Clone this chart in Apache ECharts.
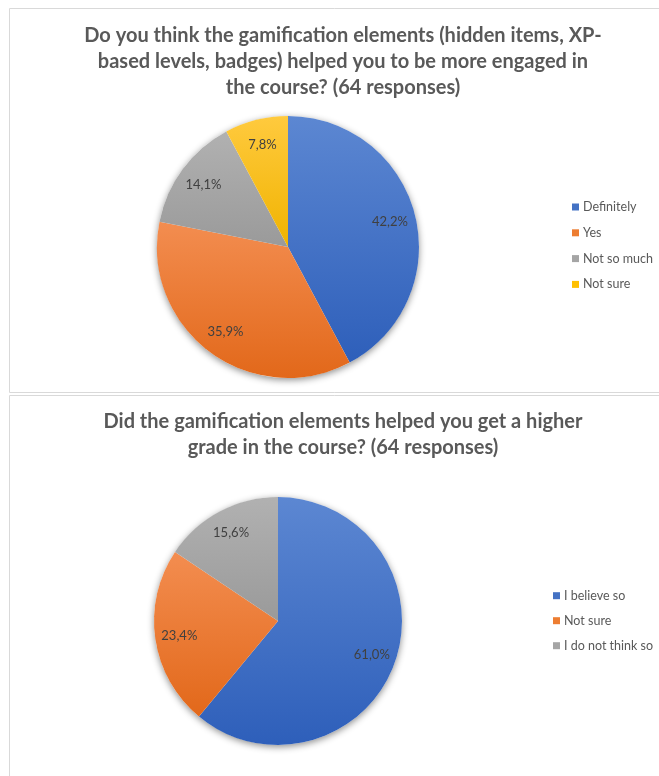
<!DOCTYPE html>
<html>
<head>
<meta charset="utf-8">
<script src="https://cdn.jsdelivr.net/npm/echarts@6/dist/echarts.min.js"></script>
<style>
  html, body { margin: 0; padding: 0; background: #ffffff; }
  #c1 { position: absolute; left: 0; top: 0; width: 659px; height: 393px; }
  #c2 { position: absolute; left: 0; top: 393px; width: 659px; height: 383px; }
</style>
</head>
<body>
<div id="c1"></div>
<div id="c2"></div>
<script>
// ---- data ----
const q1Title = 'Do you think the gamification elements (hidden items, XP-\nbased levels, badges) helped you to be more engaged in\nthe course? (64 responses)';
const q1Categories = ['Definitely', 'Yes', 'Not so much', 'Not sure'];
const q1Values = [42.2, 35.9, 14.1, 7.8];

const q2Title = 'Did the gamification elements helped you get a higher\ngrade in the course? (64 responses)';
const q2Categories = ['I believe so', 'Not sure', 'I do not think so'];
const q2Values = [61.0, 23.4, 15.6];

// ---- styles ----
const FONT = 'Lato, "Open Sans", sans-serif';
const flat = {
  blue: '#4472C4', orange: '#ED7D31', gray: '#A5A5A5', yellow: '#FFC000'
};
const grad = {
  blue: ['#5C87D2', '#2E5FBA'],
  orange: ['#F38D50', '#E2681A'],
  gray: ['#B1B1B1', '#9A9A9A'],
  yellow: ['#FFCA3E', '#F0B300']
};
function lg(c) {
  return new echarts.graphic.LinearGradient(0, 0, 0, 1, [
    { offset: 0, color: c[0] }, { offset: 1, color: c[1] }
  ]);
}
function fmt(v) { return v.toFixed(1).replace('.', ',') + '%'; }

function build(el, cfg) {
  const chart = echarts.init(el, null, { renderer: 'canvas' });
  const r = cfg.radius;
  const pieData = cfg.categories.map((n, i) => ({
    name: n, value: cfg.values[i],
    itemStyle: { color: lg(grad[cfg.colors[i]]) }
  }));
  const labelData = cfg.categories.map((n, i) => ({ name: n, value: cfg.values[i] }));
  const total = cfg.values.reduce((a, b) => a + b, 0);
  chart.setOption({
    animation: false,
    title: {
      text: cfg.title,
      left: cfg.titleX, top: cfg.titleTop, textAlign: 'center',
      textStyle: {
        fontFamily: FONT, fontWeight: 'bold', fontSize: 20,
        color: '#595959', lineHeight: 26
      }
    },
    legend: {
      orient: 'vertical',
      left: cfg.legendX, top: cfg.legendTop,
      padding: 0,
      itemWidth: 7, itemHeight: 7, itemGap: cfg.legendGap,
      icon: 'rect',
      selectedMode: false,
      data: cfg.categories.map((n, i) => ({ name: n, itemStyle: { color: flat[cfg.colors[i]] } })),
      textStyle: { fontFamily: FONT, fontSize: 12.5, color: '#595959', lineHeight: 15, padding: [0, 0, 0, -1] }
    },
    graphic: [{
      type: 'rect', silent: true,
      shape: cfg.border,
      style: { fill: 'none', stroke: '#D9D9D9', lineWidth: 1 }
    }],
    series: [
      {
        type: 'pie', name: 'shadow', silent: true,
        center: cfg.center, radius: [0, r],
        label: { show: false }, labelLine: { show: false },
        data: [{ name: '', value: total }],
        itemStyle: { color: '#ffffff', shadowBlur: 7, shadowColor: 'rgba(0,0,0,0.45)', shadowOffsetY: 2 },
        emphasis: { disabled: true }
      },
      {
        type: 'pie', name: 'main', silent: true,
        center: cfg.center, radius: [0, r],
        startAngle: 90, clockwise: true,
        label: { show: false }, labelLine: { show: false },
        itemStyle: { borderWidth: 0 },
        emphasis: { disabled: true },
        data: pieData
      },
      {
        type: 'pie', name: 'labels', silent: true,
        center: cfg.center, radius: [0, r * 1.56],
        startAngle: 90, clockwise: true,
        itemStyle: { color: 'rgba(0,0,0,0)' },
        emphasis: { disabled: true },
        label: {
          show: true, position: 'inside',
          formatter: p => fmt(p.value),
          fontFamily: FONT, fontSize: 13, color: '#404040'
        },
        labelLine: { show: false },
        data: labelData
      }
    ]
  });
  return chart;
}

build(document.getElementById('c1'), {
  title: q1Title, categories: q1Categories, values: q1Values,
  colors: ['blue', 'orange', 'gray', 'yellow'],
  center: [288, 247], radius: 131,
  titleX: 338, titleTop: 18,
  legendX: 572, legendTop: 199.5, legendGap: 10.8,
  border: { x: 9.5, y: 8.5, width: 660, height: 384 }
});

build(document.getElementById('c2'), {
  title: q2Title, categories: q2Categories, values: q2Values,
  colors: ['blue', 'orange', 'gray'],
  center: [278, 228], radius: 124,
  titleX: 338, titleTop: 11,
  legendX: 553, legendTop: 195.2, legendGap: 10,
  border: { x: 9.5, y: 2.5, width: 660, height: 400 }
});
</script>
</body>
</html>
